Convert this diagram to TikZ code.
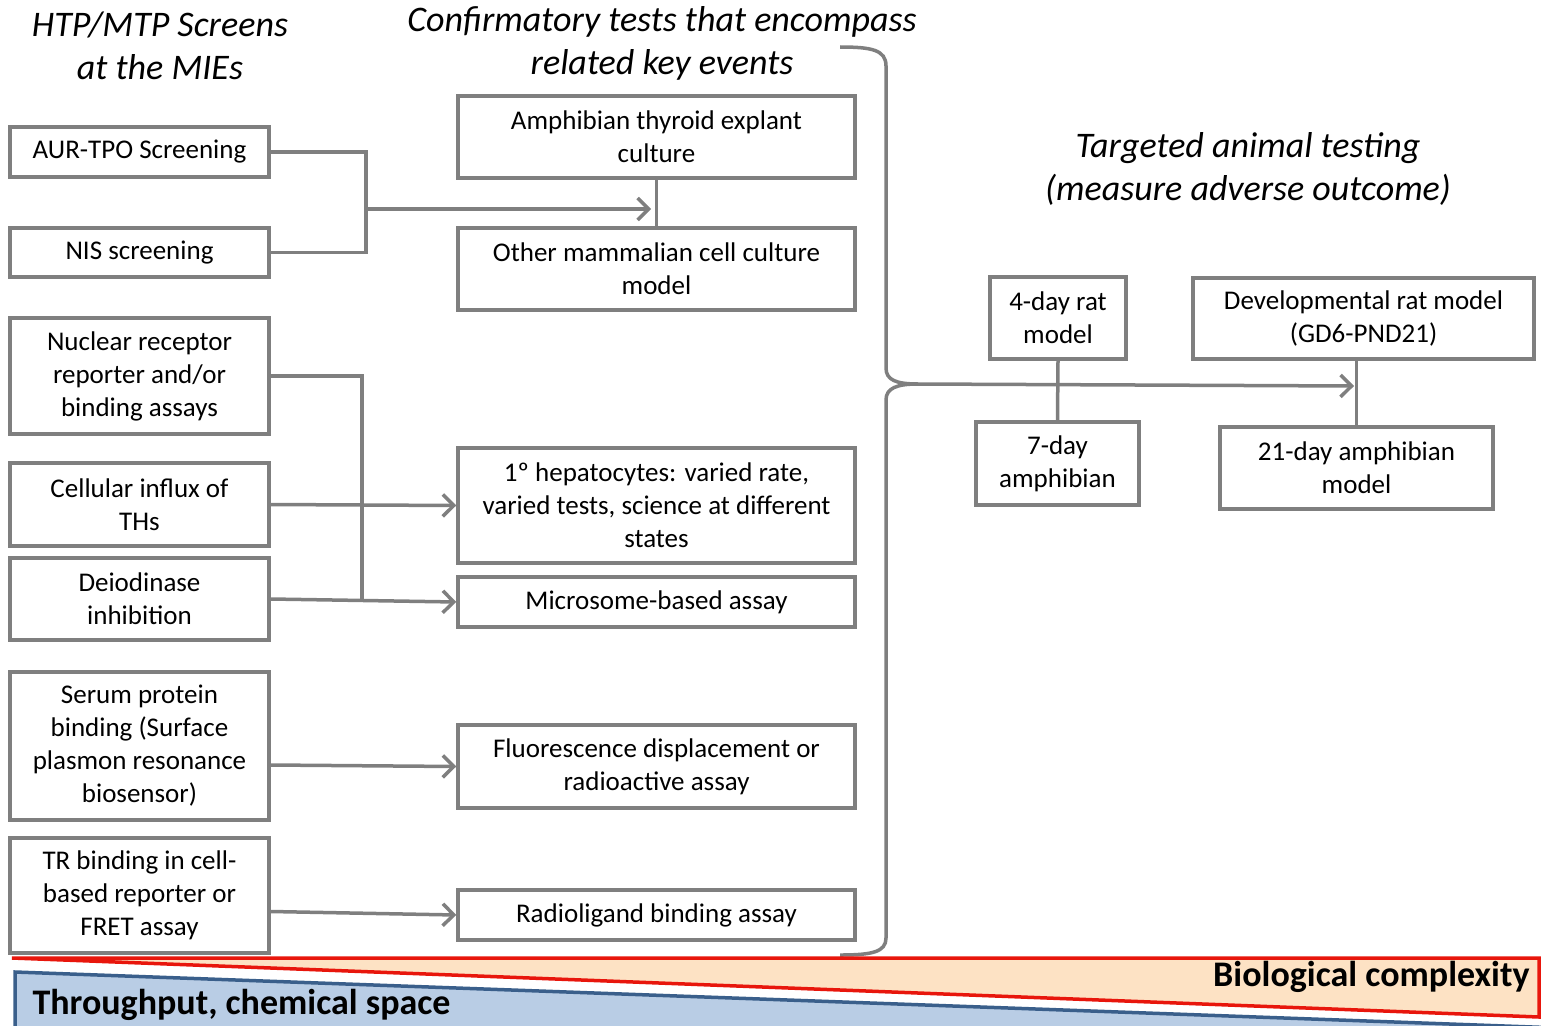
\documentclass[tikz,border=0pt]{standalone}
\usepackage{fontspec}
\setmainfont{Carlito}
\usetikzlibrary{arrows.meta,calc}
\definecolor{linegray}{HTML}{7F7F7F}
\definecolor{bioRed}{HTML}{E8160C}
\definecolor{bioFill}{HTML}{FDE2C4}
\definecolor{thrBlue}{HTML}{B9CDE5}
\definecolor{thrEdge}{HTML}{3A5F8B}
\tikzset{
  box/.style={draw=linegray, line width=3.5pt, rectangle, align=center, inner sep=2pt,
              font=\fontsize{27}{33}\selectfont, text=black},
  conn/.style={draw=linegray, line width=3.5pt},
  arr/.style={conn, -{Straight Barb[length=11pt,width=22pt,line width=3.5pt]}},
  heading/.style={align=center, font=\fontsize{36}{43}\selectfont\itshape},
  bandlabel/.style={font=\fontsize{36}{40}\selectfont\bfseries}
}
\begin{document}
\begin{tikzpicture}[x=1pt,y=-1pt]
\useasboundingbox (0,0) rectangle (1541,1025);

% column headings
\node[heading] (h1) at (160,46) {HTP/MTP Screens\\at the MIEs};
\node[heading] (h2) at (662,43) {Confirmatory tests that encompass\\related key events};
\node[heading] (h3) at (1248,169) {Targeted animal testing\\(measure adverse outcome)};

% screens at the MIEs
\node[box, minimum width=259, minimum height=50] (aur) at (139.5,152) {AUR-TPO Screening};
\node[box, minimum width=259, minimum height=49] (nis) at (139.5,252.5) {NIS screening};
\node[box, minimum width=259, minimum height=116] (nuc) at (139.5,376) {Nuclear receptor\\reporter and/or\\binding assays};
\node[box, minimum width=259, minimum height=83] (cell) at (139.5,504.5) {Cellular influx of\\THs};
\node[box, minimum width=259, minimum height=82] (deio) at (139.5,599) {Deiodinase\\inhibition};
\node[box, minimum width=259, minimum height=148] (serum) at (139.5,746) {Serum protein\\binding (Surface\\plasmon resonance\\biosensor)};
\node[box, minimum width=259, minimum height=115] (tr) at (139.5,895.5) {TR binding in cell-\\based reporter or\\FRET assay};

% confirmatory tests
\node[box, minimum width=397, minimum height=82] (expl) at (656.5,137) {Amphibian thyroid explant\\culture};
\node[box, minimum width=397, minimum height=82] (mamm) at (656.5,269) {Other mammalian cell culture\\model};
\node[box, minimum width=397, minimum height=115] (hep) at (656.5,505.5) {1º hepatocytes: varied rate,\\varied tests, science at different\\states};
\node[box, minimum width=397, minimum height=50] (micro) at (656.5,602) {Microsome-based assay};
\node[box, minimum width=397, minimum height=83] (fluor) at (656.5,766.5) {Fluorescence displacement or\\radioactive assay};
\node[box, minimum width=397, minimum height=50] (radio) at (656.5,915) {Radioligand binding assay};

% targeted animal testing
\node[box, minimum width=136, minimum height=82] (rat4) at (1058,318) {4-day rat\\model};
\node[box, minimum width=163, minimum height=83] (amph7) at (1057.5,463.5) {7-day\\amphibian};
\node[box, minimum width=341, minimum height=81] (dev) at (1363.5,318.5) {Developmental rat model\\(GD6-PND21)};
\node[box, minimum width=273, minimum height=82] (amph21) at (1356.5,468) {21-day amphibian\\model};

% connectors: screens -> confirmatory tests
\coordinate (j1) at (366,209);
\coordinate (t1) at (651,209);
\draw[conn] (aur.east) -| (j1) |- (nis.east);
\draw[arr] (j1) -- (t1);
\draw[conn] (expl.south) -- (mamm.north);

\coordinate (j2) at (362,601);
\draw[conn] (nuc.east) -| (j2);
\draw[arr] (cell.east) -- (hep.west);
\draw[arr] (deio.east) -- (micro.west);
\draw[arr] ($(serum.east)+(0,19)$) -- (fluor.west);
\draw[arr] ($(tr.east)+(0,16)$) -- (radio.west);

% brace gathering the confirmatory tests
\coordinate (tip) at (918,384);
\draw[conn] (840,47) .. controls (872,47) and (886,50) .. (886,66) -- (886,368)
            .. controls (886,380) and (896,384) .. (tip);
\draw[conn] (tip) .. controls (897,384) and (886,388) .. (886,400) -- (886,938)
            .. controls (886,952) and (872,955) .. (840,955);

% connectors: confirmatory tests -> animal testing
\coordinate (t2) at (1354,386);
\draw[arr] (tip) -- (t2);
\draw[conn] (rat4.south) -- (amph7.north);
\draw[conn] (amph21.north) -- (amph21.north |- dev.south);

% bands along the bottom
\draw[draw=bioRed, fill=bioFill, line width=3.5pt, line join=miter]
  (12,958) -- (1539,958) -- (1539,1017) -- cycle;
\begin{scope}
  \clip (0,0) rectangle (1541,1025);
  \draw[draw=thrEdge, fill=thrBlue, line width=3.5pt, line join=miter]
    (15,972) -- (1560,1028) -- (15,1040) -- cycle;
\end{scope}
\node[bandlabel, anchor=east] (bio) at (1533,977) {Biological complexity};
\node[bandlabel, anchor=west] (thr) at (29,1005) {Throughput, chemical space};
\end{tikzpicture}
\end{document}
